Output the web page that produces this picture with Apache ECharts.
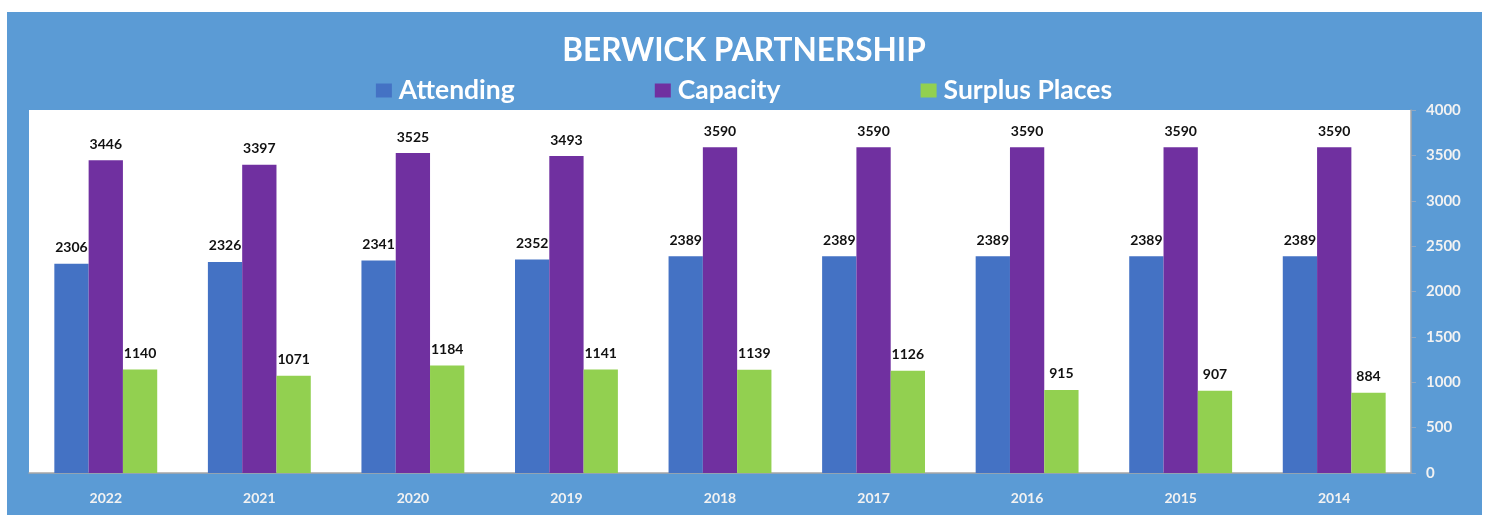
<!DOCTYPE html>
<html>
<head>
<meta charset="utf-8">
<title>Berwick Partnership</title>
<script src="https://cdn.jsdelivr.net/npm/echarts@6/dist/echarts.min.js"></script>
<style>
  html, body { margin: 0; padding: 0; background: #ffffff; }
  #bg { position: absolute; left: 7px; top: 12px; width: 1475px; height: 503px; background: #5B9BD5; }
  #chart { position: absolute; left: 0; top: 0; width: 1488px; height: 515px; }
</style>
</head>
<body>
<div id="bg"></div>
<div id="chart"></div>
<script>
// years, newest first as in the source chart
var years = ['2022', '2021', '2020', '2019', '2018', '2017', '2016', '2015', '2014'];
var attending = [2306, 2326, 2341, 2352, 2389, 2389, 2389, 2389, 2389];
var capacity = [3446, 3397, 3525, 3493, 3590, 3590, 3590, 3590, 3590];
var surplus = [1140, 1071, 1184, 1141, 1139, 1126, 915, 907, 884];

var font = 'Lato, "Open Sans", sans-serif';

var chart = echarts.init(document.getElementById('chart'));

function barSeries(name, data, color) {
  return {
    name: name,
    type: 'bar',
    data: data,
    barGap: '0%',
    barCategoryGap: '33%',
    itemStyle: { color: color },
    label: {
      show: true,
      position: 'top',
      distance: 9,
      color: '#111111',
      fontFamily: font,
      fontWeight: 'bold',
      fontSize: 14
    }
  };
}

var option = {
  backgroundColor: 'transparent',
  title: {
    text: 'BERWICK PARTNERSHIP',
    left: 'center',
    top: 30,
    textStyle: { color: '#ffffff', fontFamily: font, fontWeight: 'bold', fontSize: 31.6 }
  },
  legend: {
    top: 72,
    left: 'center',
    itemWidth: 16,
    itemHeight: 14,
    itemGap: 140,
    icon: 'rect',
    textStyle: { color: '#ffffff', fontFamily: font, fontWeight: 'bold', fontSize: 26.5, padding: [0, 0, 0, 2] },
    data: ['Attending', 'Capacity', 'Surplus Places']
  },
  grid: { left: 29, right: 77, top: 110, bottom: 42, backgroundColor: '#ffffff', show: true, borderWidth: 0 },
  xAxis: {
    type: 'category',
    data: years,
    axisLine: { lineStyle: { color: '#a6a6a6', width: 1.5 } },
    axisTick: { show: false },
    axisLabel: { color: '#f2f2f2', fontFamily: font, fontWeight: 'bold', fontSize: 14, margin: 18 }
  },
  yAxis: {
    type: 'value',
    position: 'right',
    min: 0,
    max: 4000,
    interval: 500,
    splitLine: { show: false },
    axisLine: { show: true, lineStyle: { color: '#a6a6a6', width: 1.5 } },
    axisTick: { show: true, length: 5, lineStyle: { color: '#8fa8c4' } },
    axisLabel: {
      color: '#f2f2f2', fontFamily: font, fontWeight: 'bold', fontSize: 15, margin: 15,
      formatter: function (v) { return String(v); }
    }
  },
  series: [
    barSeries('Attending', attending, '#4472C4'),
    barSeries('Capacity', capacity, '#7030A0'),
    barSeries('Surplus Places', surplus, '#92D050')
  ]
};

chart.setOption(option);
</script>
</body>
</html>
